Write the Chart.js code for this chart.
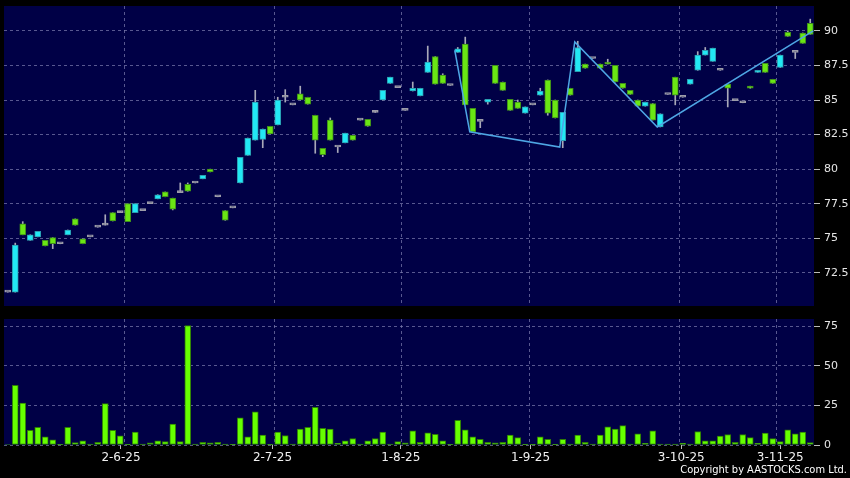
<!DOCTYPE html>
<html>
<head>
<meta charset="utf-8">
<script src="https://cdn.jsdelivr.net/npm/chart.js@4/dist/chart.umd.min.js"></script>
<style>
  body { margin: 0; background: #000; width: 850px; height: 478px; overflow: hidden; position: relative; }
  #priceBox { position: absolute; left: 0; top: 0; width: 850px; height: 312px; }
  #volBox { position: absolute; left: 0; top: 312px; width: 850px; height: 166px; }
  #copy { position: absolute; right: 3px; top: 463px; color: #fff;
          font: 11px "DejaVu Sans Condensed", "Liberation Sans", sans-serif; }
</style>
</head>
<body>
<div id="priceBox"><canvas id="price"></canvas></div>
<div id="volBox"><canvas id="volume"></canvas></div>
<div id="copy">Copyright by AASTOCKS.com Ltd.</div>
<script>
// daily candles, oldest first (index = trading day)
const openPrices = [
  71.10, 71.10, 76.05, 74.85, 75.10, 74.85, 75.05, 74.60, 75.25, 76.40,
  74.95, 75.10, 75.80, 75.95, 76.85, 76.85, 77.50, 76.85, 77.00, 77.50,
  77.85, 78.35, 77.90, 78.30, 78.90, 79.00, 79.30, 80.00, 78.00, 77.00,
  77.20, 79.00, 81.00, 82.10, 82.15, 83.10, 83.20, 85.20, 84.65, 85.45,
  85.20, 83.90, 81.50, 83.55, 81.60, 81.90, 82.45, 83.55, 83.60, 84.10,
  85.00, 86.20, 85.90, 84.25, 85.65, 85.30, 87.00, 88.15, 86.80, 86.05,
  88.45, 89.05, 84.40, 83.45, 84.85, 87.50, 86.30, 85.05, 84.85, 84.05,
  84.65, 85.35, 86.45, 85.00, 82.05, 85.85, 87.05, 87.60, 88.00, 87.60,
  87.75, 87.50, 86.20, 85.70, 85.00, 84.55, 84.75, 83.05, 85.40, 86.65,
  85.20, 86.15, 87.15, 88.25, 87.80, 87.15, 86.15, 84.95, 84.80, 86.00,
  87.00, 87.65, 86.50, 87.35, 89.90, 88.45, 89.85, 90.55
];
const highPrices = [
  71.10, 74.65, 76.20, 75.25, 75.50, 74.85, 75.05, 74.60, 75.60, 76.40,
  74.95, 75.10, 75.80, 76.70, 76.85, 76.95, 77.50, 77.50, 77.00, 77.50,
  78.15, 78.35, 77.90, 79.00, 79.00, 79.00, 79.55, 80.00, 78.00, 77.00,
  77.20, 80.85, 82.25, 85.70, 82.90, 83.10, 85.20, 85.75, 84.65, 86.00,
  85.20, 83.90, 81.50, 83.70, 81.60, 82.60, 82.45, 83.55, 83.60, 84.20,
  85.70, 86.65, 85.90, 84.25, 86.30, 85.85, 88.90, 88.15, 86.90, 86.05,
  88.80, 89.55, 84.40, 83.45, 85.05, 87.50, 86.30, 85.05, 85.00, 84.50,
  84.65, 85.85, 86.45, 85.00, 84.10, 85.85, 89.25, 87.60, 88.00, 87.60,
  87.95, 87.50, 86.20, 85.70, 85.00, 84.85, 84.75, 84.00, 85.40, 86.65,
  85.20, 86.50, 88.50, 88.80, 88.75, 87.15, 86.15, 84.95, 84.80, 86.00,
  87.15, 87.65, 86.50, 88.25, 90.00, 88.45, 89.85, 90.85
];
const lowPrices = [
  71.10, 71.10, 75.25, 74.85, 75.10, 74.45, 74.25, 74.60, 75.25, 75.95,
  74.60, 75.10, 75.80, 75.95, 76.25, 76.85, 76.20, 76.85, 77.00, 77.50,
  77.85, 78.00, 77.05, 78.30, 78.40, 79.00, 79.30, 79.80, 78.00, 76.30,
  77.20, 79.00, 81.00, 82.10, 81.55, 82.55, 83.20, 84.85, 84.65, 85.00,
  84.70, 81.15, 80.90, 82.10, 81.20, 81.90, 82.10, 83.55, 83.10, 84.10,
  85.00, 86.20, 85.90, 84.25, 85.65, 85.30, 87.00, 86.15, 86.20, 86.05,
  88.45, 84.65, 82.70, 83.00, 84.70, 86.20, 85.70, 84.25, 84.40, 84.05,
  84.65, 85.35, 83.90, 83.70, 81.55, 85.35, 87.05, 87.30, 88.00, 87.30,
  87.60, 86.30, 85.85, 85.40, 84.55, 84.55, 83.55, 83.05, 85.40, 84.65,
  85.20, 86.15, 87.15, 88.25, 87.80, 87.15, 84.50, 84.95, 84.80, 85.85,
  87.00, 87.00, 86.20, 87.35, 89.60, 88.00, 89.10, 89.75
];
const closePrices = [
  71.10, 74.50, 75.25, 75.25, 75.50, 74.45, 74.60, 74.60, 75.60, 75.95,
  74.60, 75.10, 75.80, 75.95, 76.25, 76.85, 76.20, 77.50, 77.00, 77.50,
  78.15, 78.00, 77.10, 78.30, 78.40, 79.00, 79.55, 79.80, 78.00, 76.30,
  77.20, 80.85, 82.25, 84.85, 82.90, 82.55, 85.00, 85.20, 84.65, 85.00,
  84.70, 82.10, 81.05, 82.10, 81.60, 82.60, 82.10, 83.55, 83.10, 84.10,
  85.70, 86.65, 85.90, 84.25, 85.85, 85.85, 87.75, 86.15, 86.20, 86.05,
  88.70, 84.65, 82.70, 83.45, 85.05, 86.20, 85.70, 84.25, 84.40, 84.50,
  84.65, 85.65, 84.05, 83.70, 84.10, 85.35, 88.80, 87.30, 88.00, 87.30,
  87.60, 86.30, 85.85, 85.40, 84.55, 84.85, 83.55, 84.00, 85.40, 85.35,
  85.20, 86.50, 88.25, 88.60, 88.75, 87.15, 85.85, 84.95, 84.80, 85.85,
  87.15, 87.00, 86.20, 88.25, 89.60, 88.45, 89.10, 89.75
];
const volumes = [
  0.3, 37.6, 26.5, 9.2, 11.1, 5.1, 3.2, 0.4, 11.1, 1.5,
  2.6, 0.6, 1.7, 26.1, 9.2, 5.8, 0.2, 8.1, 0.6, 1.3,
  2.6, 2.1, 13.2, 2.1, 75.4, 0.6, 1.7, 1.3, 1.7, 0.6,
  0.2, 17.1, 5.1, 20.9, 6.2, 0.2, 8.1, 6.0, 0.6, 10.0,
  11.1, 23.7, 10.5, 10.0, 1.1, 2.6, 4.1, 0.6, 2.6, 4.1,
  8.1, 0.6, 2.1, 1.3, 9.0, 1.7, 7.7, 6.8, 2.6, 0.2,
  15.6, 9.6, 5.1, 3.6, 1.7, 1.3, 1.7, 6.2, 4.7, 0.2,
  0.2, 5.1, 3.6, 0.2, 3.6, 0.6, 6.2, 1.7, 0.6, 6.2,
  11.5, 10.0, 12.2, 0.6, 7.1, 1.1, 9.0, 0.6, 0.6, 0.6,
  1.1, 0.6, 8.5, 2.6, 2.6, 5.6, 6.6, 1.7, 6.6, 4.7,
  1.1, 7.5, 4.1, 2.1, 9.6, 7.1, 8.1, 1.5
];

// trend line drawn over the candles (day index, price)
const waveX = [59.6, 61.6, 73.6, 75.6, 86.6, 107.4];
const waveY = [88.6, 82.7, 81.6, 89.2, 83.05, 90.0];

const priceTicks = [72.5, 75, 77.5, 80, 82.5, 85, 87.5, 90];
const volumeTicks = [0, 25, 50, 75];
const monthGrid = [15.5, 35.5, 52.5, 69.5, 89.5, 102.5];
const monthLabelPos = [15.1, 35.3, 52.4, 69.7, 89.8, 103.0];
const monthLabels = ["2-6-25", "2-7-25", "1-8-25", "1-9-25", "3-10-25", "3-11-25"];

const UP = "#22e8f4", UP_EDGE = "#2a9db0";
const DOWN = "#6ae614", DOWN_EDGE = "#3f8f1a";
const FLAT = "#9c9ca8";
const gridColor = "rgba(125,125,175,0.7)";
const labelFont = { family: "DejaVu Sans", size: 11 };
const dateFont = { family: "DejaVu Sans", size: 12 };
const dayMin = -0.5, dayMax = openPrices.length - 0.5;

const plotBg = {
  id: "plotBg",
  beforeDraw(chart) {
    const a = chart.chartArea;
    chart.ctx.save();
    chart.ctx.fillStyle = "#000046";
    chart.ctx.fillRect(a.left, a.top, a.right - a.left, a.bottom - a.top);
    chart.ctx.restore();
  }
};

// fixed axis sizes, and no extra room for half labels at the ends
function fixSize(w, h) {
  return s => {
    if (w !== null) s.width = w;
    if (h !== null) s.height = h;
    s.paddingTop = 0; s.paddingBottom = 0; s.paddingLeft = 0; s.paddingRight = 0;
  };
}

function candleColor(i, up, down) {
  if (closePrices[i] > openPrices[i]) return up;
  if (closePrices[i] < openPrices[i]) return down;
  return FLAT;
}

const fills = openPrices.map((o, i) => candleColor(i, UP, DOWN));
const edges = openPrices.map((o, i) => candleColor(i, UP_EDGE, DOWN_EDGE));

const wickData = openPrices.map((o, i) => ({ x: i, y: [lowPrices[i], highPrices[i]] }));
const bodyData = openPrices.map((o, i) => ({
  x: i, y: [Math.min(o, closePrices[i]), Math.max(o, closePrices[i])]
}));
const waveData = waveX.map((x, i) => ({ x: x, y: waveY[i] }));

Chart.defaults.animation = false;
Chart.defaults.plugins.legend.display = false;
Chart.defaults.plugins.tooltip.enabled = false;

new Chart(document.getElementById("price"), {
  type: "bar",
  data: {
    datasets: [
      { type: "line", data: waveData, borderColor: "#4ea6e4", borderWidth: 1.5,
        pointRadius: 0, tension: 0, order: 1 },
      { data: bodyData, backgroundColor: fills, borderColor: edges, borderWidth: 1,
        borderSkipped: false, barThickness: 6, minBarLength: 2, grouped: false, order: 2 },
      { data: wickData, backgroundColor: "#a8a8b8", borderWidth: 0,
        barThickness: 1, grouped: false, order: 3 }
    ]
  },
  options: {
    responsive: true,
    maintainAspectRatio: false,
    layout: { padding: { left: 4, top: 6, right: 0, bottom: 6 } },
    scales: {
      x: {
        type: "linear", min: dayMin, max: dayMax, offset: false,
        afterBuildTicks: s => { s.ticks = monthGrid.map(v => ({ value: v })); },
        afterFit: fixSize(null, 0),
        ticks: { display: false },
        grid: { color: gridColor, drawTicks: false, offset: false },
        border: { display: false, dash: [3, 3] }
      },
      y: {
        position: "right", min: 70.1, max: 91.8,
        afterBuildTicks: s => { s.ticks = priceTicks.map(v => ({ value: v })); },
        afterFit: fixSize(36, null),
        ticks: { color: "#e6e6e6", font: labelFont, padding: 4 },
        grid: { color: gridColor, tickLength: 6, tickColor: "#bbbbbb" },
        border: { display: false, dash: [3, 3] }
      }
    }
  },
  plugins: [plotBg]
});

new Chart(document.getElementById("volume"), {
  type: "bar",
  data: {
    datasets: [
      { data: volumes.map((v, i) => ({ x: i, y: v })), backgroundColor: "#66ff00",
        borderColor: "#2e7d05", borderWidth: 1, borderSkipped: false, barThickness: 6 }
    ]
  },
  options: {
    responsive: true,
    maintainAspectRatio: false,
    layout: { padding: { left: 4, top: 7, right: 0, bottom: 0 } },
    scales: {
      x: {
        type: "linear", min: dayMin, max: dayMax, offset: false, weight: 2,
        afterBuildTicks: s => { s.ticks = monthGrid.map(v => ({ value: v })); },
        afterFit: fixSize(null, 0),
        ticks: { display: false },
        grid: { color: gridColor, drawTicks: false, offset: false },
        border: { display: false, dash: [3, 3] }
      },
      months: {
        type: "linear", position: "bottom", axis: "x", min: dayMin, max: dayMax, offset: false, weight: 1,
        afterBuildTicks: s => { s.ticks = monthLabelPos.map(v => ({ value: v })); },
        afterFit: fixSize(null, 33),
        ticks: { color: "#f0f0f0", font: dateFont, padding: 2, maxRotation: 0, autoSkip: false,
                 callback: (v, i) => monthLabels[i] },
        grid: { drawOnChartArea: false, tickLength: 4, tickColor: "#bbbbbb", offset: false },
        border: { display: false }
      },
      y: {
        position: "right", min: 0, max: 79.5,
        afterBuildTicks: s => { s.ticks = volumeTicks.map(v => ({ value: v })); },
        afterFit: fixSize(36, null),
        ticks: { color: "#e6e6e6", font: labelFont, padding: 4 },
        grid: { color: gridColor, tickLength: 6, tickColor: "#bbbbbb" },
        border: { display: false, dash: [3, 3] }
      }
    }
  },
  plugins: [plotBg]
});
</script>
</body>
</html>
